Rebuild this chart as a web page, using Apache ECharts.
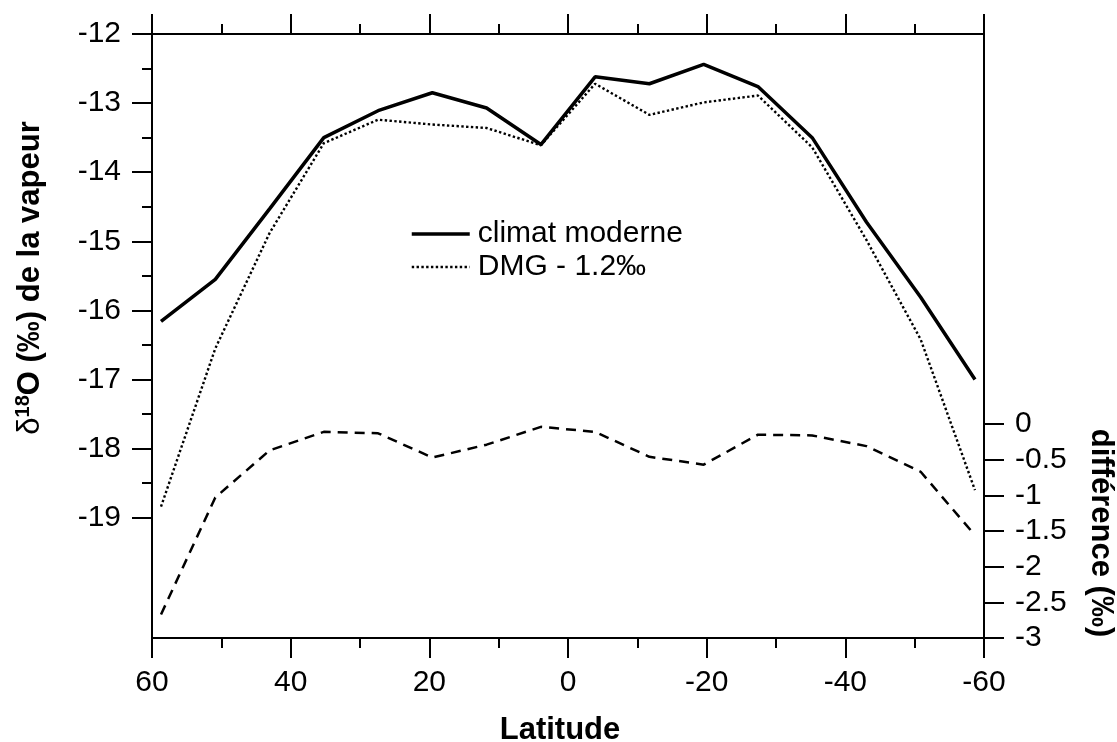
<!DOCTYPE html>
<html>
<head>
<meta charset="utf-8">
<script src="https://cdn.jsdelivr.net/npm/echarts@6/dist/echarts.min.js"></script>
<style>
html,body{margin:0;padding:0;background:#fff;}
#c{width:1117px;height:742px;}
</style>
</head>
<body>
<div id="c"></div>
<script>
// Latitudes of the model grid (deg)
const latitudes = [58.70, 50.87, 43.04, 35.22, 27.39, 19.57, 11.74, 3.91, -3.91, -11.74, -19.57, -27.39, -35.22, -43.04, -50.87, -58.70];
// δ18O of vapour, modern climate (‰)
const climatModerne = [-16.16, -15.55, -14.53, -13.50, -13.11, -12.85, -13.07, -13.60, -12.62, -12.72, -12.44, -12.76, -13.50, -14.72, -15.81, -17.00];
// δ18O of vapour, LGM minus 1.2 ‰
const dmgMoins12 = [-18.84, -16.55, -14.88, -13.58, -13.24, -13.31, -13.36, -13.61, -12.72, -13.17, -12.99, -12.89, -13.64, -14.98, -16.42, -18.60];
// difference (‰), right axis
const difference = [-2.67, -1.03, -0.37, -0.11, -0.13, -0.47, -0.29, -0.04, -0.11, -0.46, -0.57, -0.15, -0.16, -0.31, -0.67, -1.56];
// tick labels
const leftTickValues = [-12, -13, -14, -15, -16, -17, -18, -19];
const leftMinorTickValues = [-12.5, -13.5, -14.5, -15.5, -16.5, -17.5, -18.5];

const pairs = (xs, ys) => xs.map((x, i) => [x, ys[i]]);
const FONT = '"Liberation Sans", Arial, Helvetica, sans-serif';

const chart = echarts.init(document.getElementById('c'), null, {renderer: 'canvas'});

const xCommon = {
  type: 'value', min: -60, max: 60, interval: 20, inverse: true,
  axisLine: {show: false, onZero: false},
  splitLine: {show: false}
};
const tickStyle = {color: '#000', width: 2};

const option = {
  backgroundColor: '#fff',
  animation: false,
  textStyle: {fontFamily: FONT},
  grid: [
    {left: 152, right: 133, top: 34, bottom: 104, show: true, borderColor: '#000', borderWidth: 2, backgroundColor: 'transparent'},
    {left: 152, right: 133, top: 424, bottom: 104, show: false}
  ],
  legend: {
    data: [
      {name: 'climat moderne', lineStyle: {width: 3.5}},
      {name: 'DMG - 1.2‰', lineStyle: {width: 2.4}}
    ],
    orient: 'vertical',
    left: 405, top: 214,
    itemWidth: 58, itemHeight: 14, itemGap: 3,
    itemStyle: {color: 'transparent', borderWidth: 0, opacity: 0},
    textStyle: {fontSize: 30, fontFamily: FONT, color: '#000', lineHeight: 30, padding: [0, 0, 0, 3]},
    inactiveColor: '#000'
  },
  xAxis: [
    Object.assign({}, xCommon, {
      gridIndex: 0, position: 'bottom',
      axisTick: {show: true, length: 20, lineStyle: tickStyle},
      minorTick: {show: true, splitNumber: 2, length: 10, lineStyle: tickStyle},
      axisLabel: {fontSize: 30, color: '#000', margin: 30, fontFamily: FONT}
    }),
    Object.assign({}, xCommon, {
      gridIndex: 0, position: 'top',
      axisTick: {show: true, length: 20, lineStyle: tickStyle},
      minorTick: {show: true, splitNumber: 2, length: 10, lineStyle: tickStyle},
      axisLabel: {show: false}
    }),
    Object.assign({}, xCommon, {
      gridIndex: 1, show: false
    })
  ],
  yAxis: [
    {
      type: 'value', gridIndex: 0, position: 'left', min: -20.74, max: -12,
      axisLine: {show: false, onZero: false}, splitLine: {show: false},
      axisTick: {show: true, length: 20, customValues: leftTickValues, lineStyle: tickStyle},
      axisLabel: {fontSize: 30, color: '#000', margin: 31, customValues: leftTickValues, fontFamily: FONT}
    },
    {
      type: 'value', gridIndex: 0, position: 'left', min: -20.74, max: -12,
      axisLine: {show: false, onZero: false}, splitLine: {show: false},
      axisTick: {show: true, length: 10, customValues: leftMinorTickValues, lineStyle: tickStyle},
      axisLabel: {show: false, customValues: leftMinorTickValues}
    },
    {
      type: 'value', gridIndex: 1, position: 'right', min: -3, max: 0, interval: 0.5,
      axisLine: {show: false, onZero: false}, splitLine: {show: false},
      axisTick: {show: true, length: 20, lineStyle: tickStyle},
      axisLabel: {fontSize: 30, color: '#000', margin: 31, fontFamily: FONT,
        formatter: v => String(Math.round(v * 10) / 10)}
    }
  ],
  series: [
    {
      name: 'climat moderne', type: 'line', xAxisIndex: 0, yAxisIndex: 0,
      data: pairs(latitudes, climatModerne), symbol: 'none',
      lineStyle: {color: '#000', width: 3.5, type: 'solid'},
      itemStyle: {color: '#000'}
    },
    {
      name: 'DMG - 1.2‰', type: 'line', xAxisIndex: 0, yAxisIndex: 0,
      data: pairs(latitudes, dmgMoins12), symbol: 'none',
      lineStyle: {color: '#000', width: 2.4, type: [2.4, 2.4]},
      itemStyle: {color: '#000'}
    },
    {
      name: 'différence', type: 'line', xAxisIndex: 2, yAxisIndex: 2,
      data: pairs(latitudes, difference), symbol: 'none',
      lineStyle: {color: '#000', width: 2.5, type: [10, 7]},
      itemStyle: {color: '#000'}
    }
  ],
  graphic: [
    {
      type: 'text', x: 560, y: 730,
      style: {text: 'Latitude', font: 'bold 31px ' + FONT, fill: '#000', align: 'center', verticalAlign: 'middle'}
    },
    {
      type: 'text', x: 1101, y: 533, rotation: -Math.PI / 2,
      style: {text: 'différence (‰)', font: 'bold 31px ' + FONT, fill: '#000', align: 'center', verticalAlign: 'middle'}
    },
    {
      type: 'text', x: 30, y: 278, rotation: Math.PI / 2,
      style: {
        text: '{d|δ}{s|18}{b|O (‰) de la vapeur}',
        align: 'center', verticalAlign: 'middle', fill: '#000',
        rich: {
          d: {fontSize: 31, fontFamily: FONT, fontWeight: 'normal', fill: '#000', lineHeight: 34},
          s: {fontSize: 20, fontFamily: FONT, fontWeight: 'bold', fill: '#000', verticalAlign: 'top', lineHeight: 34},
          b: {fontSize: 31, fontFamily: FONT, fontWeight: 'bold', fill: '#000', lineHeight: 34}
        }
      }
    }
  ]
};
chart.setOption(option);
</script>
</body>
</html>
